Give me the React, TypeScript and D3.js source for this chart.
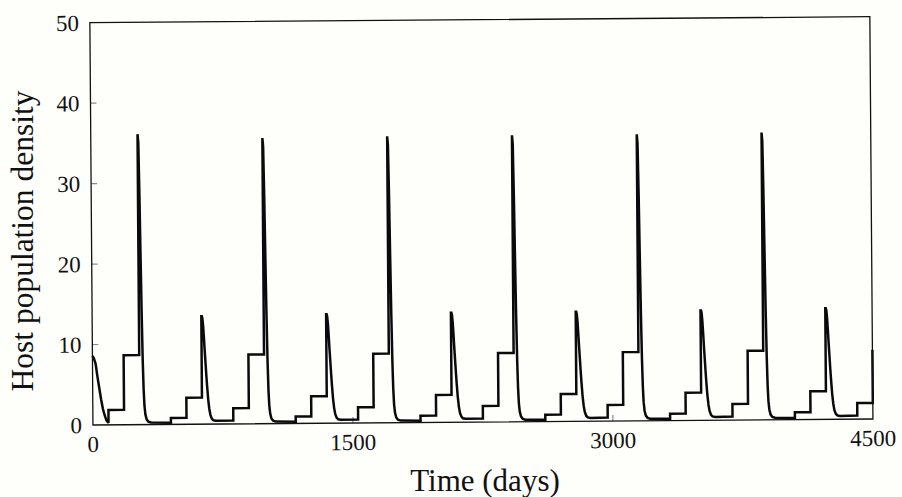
import React from 'react';
import { scaleLinear, line } from 'd3';

// host density (days, density)
// first season: decline from the starting density
const initialDecline: [number, number][] = [
  [0, 8.6], [8, 8.3], [18, 7.6], [28, 6.0], [38, 4.6], [48, 3.2],
  [58, 2.0], [68, 1.2], [78, 0.55], [90, 0.25],
];

// one value per 720-day cycle
const stepLow1 = [1.86, 1.95, 1.95, 2.0, 2.0, 2.0, 2.0]; // days 90-180 (last cycle is partial)
const stepHigh1 = [8.65, 8.6, 8.6, 8.55, 8.55, 8.6]; // days 180-270
const bigPeaks = [36.1, 35.5, 35.6, 35.6, 35.6, 35.7]; // pulse at day 270
const stepLow2 = [0.8, 0.85, 0.85, 0.85, 0.85, 0.9]; // days 450-540
const stepHigh2 = [3.3, 3.35, 3.4, 3.4, 3.45, 3.5]; // days 540-630
const smallPeaks = [13.4, 13.55, 13.6, 13.6, 13.65, 13.8]; // pulse at day 630
const finalJump = 8.6; // density at day 4500

// shape of the crash after each pulse: [days after pulse, share of the peak]
const bigDecline: [number, number][] = [
  [0, 1], [4, 0.97], [8, 0.8], [12, 0.58], [16, 0.38], [20, 0.22], [24, 0.12],
  [28, 0.065], [33, 0.035], [40, 0.018], [50, 0.01], [65, 0.007], [180, 0.006],
];
const smallDecline: [number, number][] = [
  [0, 1], [3, 1], [6, 0.98], [10, 0.91], [14, 0.8], [18, 0.68], [22, 0.57], [26, 0.46],
  [30, 0.36], [36, 0.23], [42, 0.14], [48, 0.085], [56, 0.05], [65, 0.035], [80, 0.03], [180, 0.032],
];

const cycleLength = 720;
const xTicks = [0, 1500, 3000, 4500];
const yTicks = [0, 10, 20, 30, 40, 50];

const width = 902;
const height = 497;
const margin = { left: 91.4, right: 30.6, top: 19.7, bottom: 75 };

// build the series
const points: [number, number][] = [...initialDecline];
for (let i = 0; i < stepLow1.length; i++) {
  const c = i * cycleLength;
  points.push([c + 90, stepLow1[i]], [c + 180, stepLow1[i]]);
  if (i === stepLow1.length - 1) {
    points.push([c + 180, finalJump]);
    break;
  }
  points.push([c + 180, stepHigh1[i]], [c + 270, stepHigh1[i]]);
  bigDecline.forEach(([d, f]) => points.push([c + 270 + d, bigPeaks[i] * f]));
  points.push([c + 450, stepLow2[i]], [c + 540, stepLow2[i]]);
  points.push([c + 540, stepHigh2[i]], [c + 630, stepHigh2[i]]);
  smallDecline.forEach(([d, f]) => points.push([c + 630 + d, smallPeaks[i] * f]));
}

const App = () => {
  const x0 = margin.left;
  const x1 = width - margin.right;
  const y0 = height - margin.bottom;
  const y1 = margin.top;

  const xScale = scaleLinear().domain([0, 4500]).range([x0, x1]);
  const yScale = scaleLinear().domain([0, 50]).range([y0, y1]);

  const path = line<[number, number]>()
    .x((d) => xScale(d[0]))
    .y((d) => yScale(d[1]))(points);

  const cx = (x0 + x1) / 2;
  const cy = (y0 + y1) / 2;
  const font = '"Liberation Serif", "Times New Roman", serif';

  return (
    <svg
      width={width}
      height={height}
      style={{ position: 'absolute', left: 0, top: 0, display: 'block' }}
    >
      <rect width={width} height={height} fill="#fefefb" />
      {/* the scanned figure sits slightly tilted */}
      <g transform={`rotate(-0.44, ${cx}, ${cy})`} fontFamily={font} fill="#111">
        {yTicks.slice(1, -1).map((t) => (
          <line key={'yt' + t} x1={x0} x2={x0 + 6} y1={yScale(t)} y2={yScale(t)} stroke="#7f8f99" strokeWidth={1.2} />
        ))}
        {xTicks.slice(1, -1).map((t) => (
          <line key={'xt' + t} x1={xScale(t)} x2={xScale(t)} y1={y0} y2={y0 - 6} stroke="#7f8f99" strokeWidth={1.2} />
        ))}
        <path
          d={path || ''}
          fill="none"
          stroke="#0a0a0a"
          strokeWidth={2.5}
          strokeLinejoin="miter"
          strokeMiterlimit={2}
        />
        <rect x={x0} y={y1} width={x1 - x0} height={y0 - y1} fill="none" stroke="#111" strokeWidth={1.3} />

        {yTicks.map((t) => (
          <text key={'yl' + t} x={x0 - 11} y={yScale(t)} dy="0.35em" textAnchor="end" fontSize={23}>
            {t}
          </text>
        ))}
        {xTicks.map((t) => (
          <text key={'xl' + t} x={xScale(t)} y={y0 + 27} textAnchor="middle" fontSize={23}>
            {t}
          </text>
        ))}
      </g>
      <g fontFamily={font} fill="#111">
        <text x={485} y={491} textAnchor="middle" fontSize={31}>
          Time (days)
        </text>
        <text transform="translate(33, 241) rotate(-90)" textAnchor="middle" fontSize={31.5}>
          Host population density
        </text>
      </g>
    </svg>
  );
};

export default App;
